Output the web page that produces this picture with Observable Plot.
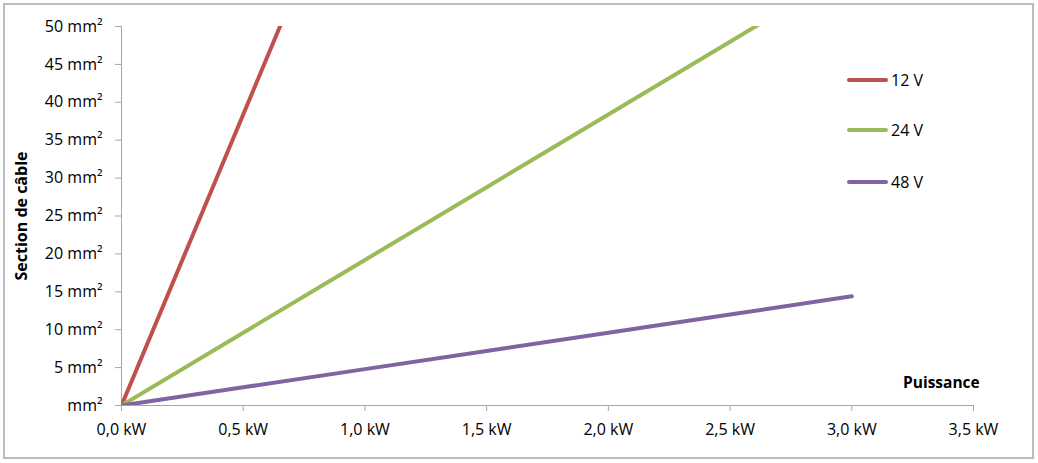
<!DOCTYPE html>
<html><head><meta charset="utf-8">
<script src="https://cdn.jsdelivr.net/npm/d3@7"></script>
<script src="https://cdn.jsdelivr.net/npm/@observablehq/plot@0.6"></script>
<style>
body{margin:0;background:#fff;font-family:"Open Sans",sans-serif}
#wrap{position:relative;width:1038px;height:463px;overflow:hidden}
#frame{position:absolute;left:3px;top:3px;width:1027px;height:452px;border:2px solid #bdbdbd;pointer-events:none}
#chart{position:absolute;left:0;top:0}
#chart svg{font-family:"Open Sans",sans-serif;color:#000}
#chart svg [aria-label="y-axis label"] text{font-weight:bold;font-size:16px}
.xt{position:absolute;font-weight:bold;font-size:15.5px;color:#000}
.leg{position:absolute;left:847px;display:flex;align-items:center;font-size:16px}
.leg span.sw{display:inline-block;width:41px;height:4px;border-radius:2px;margin-right:3px}
</style></head>
<body><div id="wrap"><div id="chart"></div><div id="frame"></div>
<div class="xt" id="xtitle" style="left:903px;top:371px">Puissance</div>
<div id="legend"></div></div>
<script>
const power = [0, 0.5, 1.0, 1.5, 2.0, 2.5, 3.0];
const section12 = [0, 38.4, 76.8, null, null, null, null];
const section24 = [0, 9.6, 19.2, 28.8, 38.4, 48.0, 57.6];
const section48 = [0, 2.4, 4.8, 7.2, 9.6, 12.0, 14.4];
const seriesNames = ["12 V", "24 V", "48 V"];
const seriesColors = ["#C0504D", "#9BBB59", "#8064A2"];
const xTicks = [0, 0.5, 1.0, 1.5, 2.0, 2.5, 3.0, 3.5];
const yTicks = [0, 5, 10, 15, 20, 25, 30, 35, 40, 45, 50];
const legendTops = [69, 119, 171];

const rows = [];
[section12, section24, section48].forEach((arr, i) => {
  arr.forEach((v, j) => { if (v != null) rows.push({p: power[j], s: v, serie: seriesNames[i]}); });
});

const axisGray = "#a6a6a6";
const chart = Plot.plot({
  width: 1038, height: 463,
  marginLeft: 121, marginRight: 65, marginTop: 26, marginBottom: 58,
  x: {domain: [0, 3.5]},
  y: {domain: [0, 50]},
  color: {domain: seriesNames, range: seriesColors},
  marks: [
    Plot.axisY({ticks: yTicks, tickFormat: d => d === 0 ? "mm²" : `${d} mm²`, tickSize: 6, tickPadding: 13,
      fontSize: 16, stroke: axisGray, label: "Section de câble", labelAnchor: "center", labelOffset: 106, labelArrow: "none"}),
    Plot.axisX({ticks: xTicks, tickFormat: d => d.toFixed(1).replace(".", ",") + " kW", tickSize: 6, tickPadding: 12,
      fontSize: 16, stroke: axisGray, label: null}),
    Plot.ruleX([0], {stroke: axisGray}),
    Plot.ruleY([0], {stroke: axisGray}),
    Plot.line(rows, {x: "p", y: "s", z: "serie", stroke: "serie", strokeWidth: 4, clip: true})
  ]
});
document.getElementById("chart").appendChild(chart);

const legend = document.getElementById("legend");
seriesNames.forEach((n, i) => {
  const d = document.createElement("div");
  d.className = "leg";
  d.style.top = legendTops[i] + "px";
  d.innerHTML = `<span class="sw" style="background:${seriesColors[i]}"></span><span>${n}</span>`;
  legend.appendChild(d);
});
</script></body></html>
